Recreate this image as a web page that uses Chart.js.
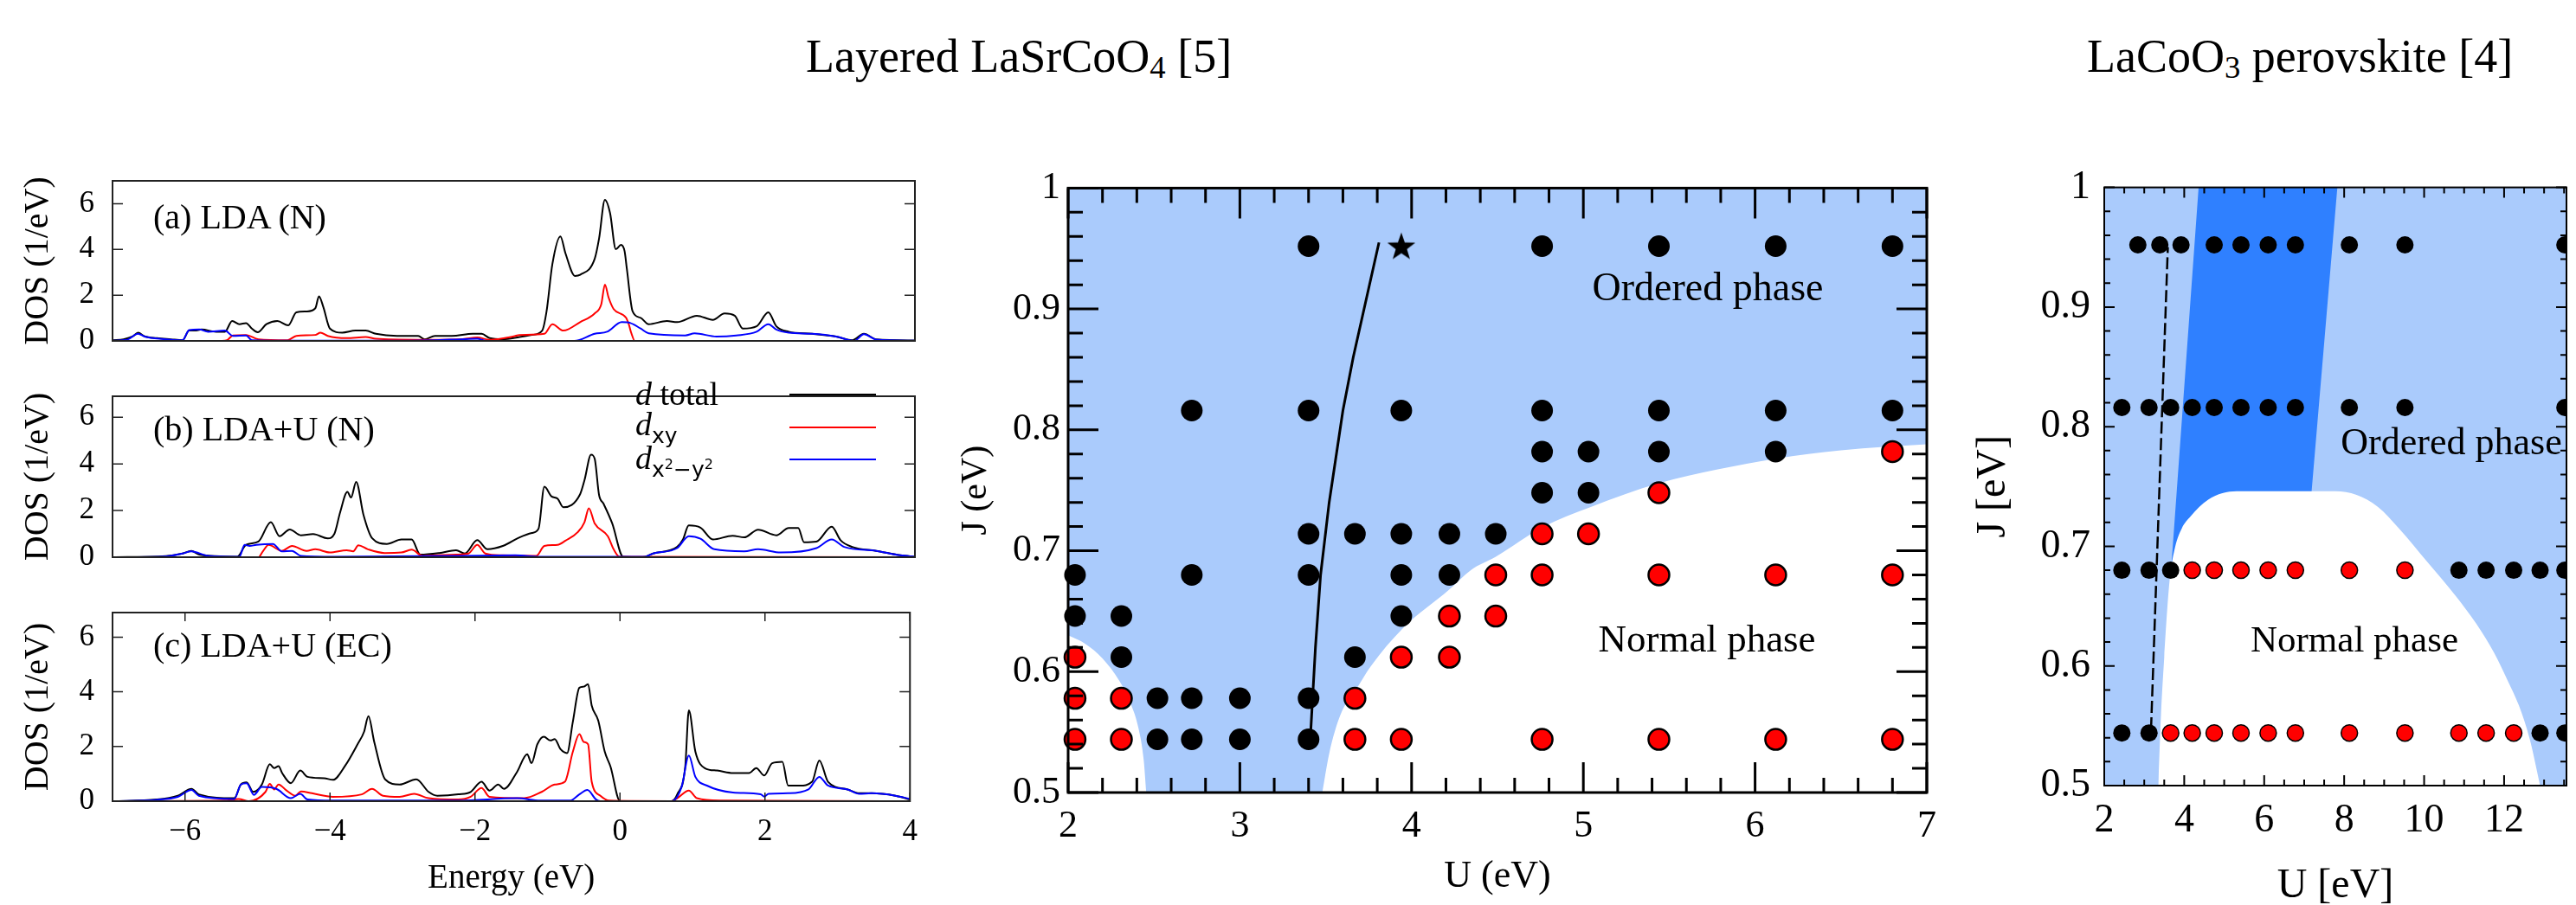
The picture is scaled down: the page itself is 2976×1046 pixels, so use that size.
<!DOCTYPE html>
<html><head><meta charset="utf-8">
<script src="https://cdn.jsdelivr.net/npm/chart.js@4.4.1/dist/chart.umd.min.js"></script>
<style>
html,body{margin:0;padding:0;background:#fff;}
body{width:2976px;height:1046px;overflow:hidden;position:relative;font-family:'Liberation Serif',serif;color:#000;}
canvas{position:absolute;}
.t{position:absolute;white-space:nowrap;color:#000;}
.c{transform:translate(-50%,-50%);}
.v{transform:translateY(-50%);}
sub.s{font-size:0.68em;vertical-align:-0.2em;line-height:0;}
.sans{font-family:'DejaVu Sans',sans-serif;}
.ln{position:absolute;height:0;width:100px;}
</style></head><body>

<div class="t" style="left:931px;top:38px;font-size:54px;line-height:54px;">Layered LaSrCoO<sub class="s">4</sub> [5]</div>
<div class="t" style="left:2411px;top:38px;font-size:54px;line-height:54px;">LaCoO<sub class="s">3</sub> perovskite [4]</div>

<script>
// ---------------- DATA ----------------
// DOS panels: [energy (eV), DOS (1/eV)]
const dosXTicks = [-6, -4, -2, 0, 2, 4];
const dosYTicks = [0, 2, 4, 6];
const panelLabels = ['(a) LDA (N)', '(b) LDA+U (N)', '(c) LDA+U (EC)'];

const aTotal = [[-7.0,0.03],[-6.85,0.07],[-6.72,0.2],[-6.65,0.36],[-6.56,0.2],[-6.39,0.12],[-6.2,0.07],[-6.04,0.03],[-5.95,0.45],[-5.87,0.45],[-5.78,0.5],[-5.58,0.4],[-5.46,0.4],[-5.36,0.87],[-5.26,0.73],[-5.17,0.78],[-5.09,0.54],[-5.01,0.38],[-4.89,0.73],[-4.74,0.87],[-4.59,0.68],[-4.48,1.25],[-4.34,1.29],[-4.22,1.43],[-4.17,1.95],[-4.11,1.48],[-4.02,0.54],[-3.85,0.36],[-3.67,0.45],[-3.53,0.45],[-3.39,0.31],[-3.1,0.22],[-2.81,0.22],[-2.72,0.07],[-2.58,0.22],[-2.35,0.22],[-2.06,0.31],[-1.94,0.31],[-1.83,0.12],[-1.65,0.07],[-1.42,0.17],[-1.25,0.26],[-1.11,0.45],[-1.05,1.29],[-0.97,3.36],[-0.86,4.57],[-0.79,3.82],[-0.66,2.84],[-0.59,2.89],[-0.39,3.59],[-0.33,4.48],[-0.25,6.17],[-0.18,5.6],[-0.1,4.01],[-0.03,4.2],[0.02,3.92],[0.05,3.17],[0.13,1.29],[0.24,1.01],[0.35,0.73],[0.6,0.87],[0.74,0.82],[1.01,1.1],[1.23,0.92],[1.39,1.2],[1.53,1.1],[1.64,0.54],[1.83,0.64],[1.99,1.25],[2.1,0.64],[2.27,0.4],[2.59,0.31],[2.92,0.19],[3.14,0.03],[3.3,0.31],[3.47,0.07],[4.0,0.02]];
const aXY = [[-7,0],[-5.5,0],[-5.43,0.03],[-5.35,0.24],[-5.17,0.26],[-5.0,0.07],[-4.6,0.03],[-4.48,0.22],[-4.22,0.26],[-4.15,0.36],[-4.05,0.22],[-3.79,0.12],[-3.53,0.17],[-3.39,0.09],[-2.81,0.05],[-2.2,0.08],[-2.0,0.15],[-1.83,0.05],[-1.5,0.2],[-1.42,0.26],[-1.08,0.31],[-0.97,0.73],[-0.82,0.45],[-0.59,0.82],[-0.39,1.2],[-0.3,1.6],[-0.25,2.46],[-0.2,1.9],[-0.13,1.39],[0.04,1.01],[0.08,0.7],[0.11,0.36],[0.16,0],[4.0,0]];
const aX2Y2 = [[-7,0.01],[-6.8,0.05],[-6.65,0.31],[-6.56,0.19],[-6.3,0.08],[-6.04,0.03],[-5.95,0.47],[-5.81,0.5],[-5.69,0.4],[-5.46,0.45],[-5.35,0.22],[-5.17,0.24],[-5.09,0.03],[-4.5,0.01],[-3.39,0.01],[-2.6,0.03],[-2.23,0.07],[-2.0,0.09],[-1.88,0],[-0.67,0],[-0.39,0.31],[-0.22,0.4],[-0.02,0.82],[0.1,0.78],[0.24,0.54],[0.35,0.33],[0.85,0.24],[0.98,0.33],[1.28,0.19],[1.55,0.24],[1.83,0.4],[1.99,0.73],[2.1,0.5],[2.27,0.36],[2.59,0.31],[2.92,0.19],[3.17,0],[3.3,0.29],[3.47,0.06],[4.0,0.01]];

const bTotal = [[-7,0],[-6.27,0.05],[-6.04,0.16],[-5.92,0.27],[-5.81,0.11],[-5.29,0.02],[-5.17,0.53],[-5.0,0.67],[-4.83,1.5],[-4.71,0.9],[-4.57,1.19],[-4.42,0.94],[-4.25,0.99],[-4.05,0.81],[-3.96,0.99],[-3.88,1.92],[-3.78,2.8],[-3.73,2.56],[-3.66,3.23],[-3.56,1.82],[-3.44,0.81],[-3.24,0.57],[-3.04,0.76],[-2.9,0.76],[-2.78,0.11],[-2.52,0.18],[-2.29,0.3],[-2.17,0.16],[-2.0,0.73],[-1.86,0.34],[-1.65,0.48],[-1.42,0.85],[-1.25,1.04],[-1.16,1.22],[-1.08,3.02],[-0.98,2.6],[-0.9,2.51],[-0.82,2.14],[-0.59,2.7],[-0.53,3.3],[-0.44,4.4],[-0.39,4.22],[-0.33,2.66],[-0.27,2.3],[-0.15,1.45],[0,0.02],[0.27,0],[0.41,0.16],[0.74,0.44],[0.82,0.76],[0.9,1.36],[1.06,1.27],[1.23,0.76],[1.5,0.92],[1.66,0.85],[1.85,1.18],[2.1,0.94],[2.27,1.25],[2.4,1.25],[2.48,0.64],[2.65,0.67],[2.86,1.31],[2.98,0.73],[3.14,0.44],[3.47,0.27],[3.8,0.08],[4.0,0.02]];
const bXY = [[-7,0],[-5.0,0],[-4.94,0.25],[-4.86,0.53],[-4.68,0.27],[-4.54,0.48],[-4.34,0.27],[-4.22,0.34],[-4.02,0.2],[-3.79,0.3],[-3.7,0.25],[-3.63,0.51],[-3.5,0.34],[-3.27,0.18],[-3.04,0.2],[-2.9,0.32],[-2.75,0.06],[-2.29,0.11],[-2.12,0.16],[-2.0,0.53],[-1.89,0.16],[-1.65,0.08],[-1.19,0.06],[-1.08,0.48],[-0.9,0.53],[-0.79,0.71],[-0.62,1.08],[-0.53,1.5],[-0.47,2.1],[-0.39,1.45],[-0.21,0.9],[-0.13,0.34],[-0.05,0.02],[4.0,0]];
const bX2Y2 = [[-7,0],[-6.3,0.03],[-6.04,0.16],[-5.92,0.25],[-5.69,0.06],[-5.26,0.02],[-5.19,0.53],[-5.12,0.48],[-5.03,0.53],[-4.8,0.57],[-4.68,0.25],[-4.54,0.27],[-4.42,0.06],[-3.96,0.02],[-2.23,0.06],[-1.48,0.08],[-1.13,0.02],[0.3,0.02],[0.41,0.16],[0.74,0.39],[0.9,0.9],[1.06,0.79],[1.25,0.34],[1.66,0.25],[1.85,0.34],[2.16,0.2],[2.65,0.39],[2.86,0.76],[3.03,0.44],[3.47,0.27],[3.8,0.08],[4.0,0.02]];

const cTotal = [[-7,0],[-6.39,0.06],[-6.1,0.2],[-5.91,0.45],[-5.81,0.25],[-5.32,0.11],[-5.23,0.61],[-5.15,0.69],[-5.06,0.34],[-4.94,0.61],[-4.83,1.35],[-4.77,1.21],[-4.71,1.28],[-4.66,1.03],[-4.54,0.66],[-4.41,1.12],[-4.31,0.89],[-4.08,0.84],[-3.96,0.78],[-3.79,1.3],[-3.62,2.08],[-3.53,2.54],[-3.47,3.11],[-3.39,2.17],[-3.24,0.8],[-3.04,0.61],[-2.81,0.8],[-2.64,0.34],[-2.52,0.2],[-2.23,0.25],[-2.06,0.34],[-1.91,0.71],[-1.8,0.39],[-1.68,0.61],[-1.6,0.45],[-1.42,1.07],[-1.28,1.72],[-1.22,1.39],[-1.14,2.08],[-1.05,2.36],[-0.96,2.22],[-0.9,2.27],[-0.82,1.9],[-0.73,1.76],[-0.65,2.91],[-0.56,4.15],[-0.5,4.19],[-0.44,4.28],[-0.39,3.5],[-0.3,2.95],[-0.21,1.81],[-0.13,1.26],[0,0],[0.71,0],[0.79,0.25],[0.9,1.26],[0.95,3.32],[1.04,1.81],[1.17,1.21],[1.34,1.12],[1.56,1.03],[1.78,1.03],[1.88,1.21],[1.99,0.94],[2.1,1.39],[2.24,1.44],[2.32,0.57],[2.48,0.57],[2.65,0.71],[2.75,1.49],[2.87,0.71],[3.14,0.43],[3.3,0.29],[3.47,0.29],[3.8,0.2],[4.0,0.06]];
const cXY = [[-7,0],[-5.46,0.02],[-5.26,0.08],[-5.12,0],[-4.89,0.34],[-4.83,0.63],[-4.77,0.43],[-4.71,0.61],[-4.6,0.39],[-4.48,0.2],[-4.4,0.36],[-4.25,0.29],[-3.96,0.16],[-3.56,0.25],[-3.42,0.45],[-3.27,0.2],[-3.04,0.16],[-2.84,0.27],[-2.64,0.11],[-2.23,0.06],[-2.06,0.16],[-1.91,0.48],[-1.8,0.16],[-1.32,0.11],[-1.08,0.34],[-0.9,0.61],[-0.76,0.71],[-0.65,1.81],[-0.56,2.45],[-0.5,2.17],[-0.44,2.08],[-0.39,0.71],[-0.27,0.2],[-0.15,0.02],[0.71,0],[0.79,0.11],[0.95,0.39],[1.06,0.11],[1.39,0.02],[4.0,0]];
const cX2Y2 = [[-7,0],[-6.39,0.05],[-6.1,0.16],[-5.91,0.41],[-5.81,0.2],[-5.32,0.08],[-5.23,0.61],[-5.15,0.66],[-5.05,0.23],[-4.94,0.52],[-4.74,0.45],[-4.54,0.11],[-4.41,0.27],[-4.31,0.06],[-3.96,0.02],[-2.23,0.02],[-1.42,0.11],[-1.1,0.02],[-0.69,0.02],[-0.56,0.25],[-0.45,0.41],[-0.33,0.06],[-0.27,0],[0.71,0],[0.85,0.52],[0.95,1.67],[1.04,0.89],[1.2,0.57],[1.56,0.32],[1.94,0.25],[1.99,0.17],[2.05,0.27],[2.32,0.29],[2.6,0.43],[2.75,0.89],[2.87,0.57],[3.14,0.43],[3.3,0.27],[3.47,0.29],[3.8,0.2],[4.0,0.08]];

// Middle phase diagram (LaSrCoO4): U (eV), J (eV)
const midXTicks = [2, 3, 4, 5, 6, 7];
const midYTicks = [0.5, 0.6, 0.7, 0.8, 0.9, 1];
const midRowsJ = [0.952, 0.816, 0.782, 0.748, 0.714, 0.680, 0.646, 0.612, 0.578, 0.544];
const midBlackU = [
  [3.40, 4.76, 5.44, 6.12, 6.80],
  [2.72, 3.40, 3.94, 4.76, 5.44, 6.12, 6.80],
  [4.76, 5.03, 5.44, 6.12],
  [4.76, 5.03],
  [3.40, 3.67, 3.94, 4.22, 4.49],
  [2.04, 2.72, 3.40, 3.94, 4.22],
  [2.04, 2.31, 3.94],
  [2.31, 3.67],
  [2.52, 2.72, 3.00, 3.40],
  [2.52, 2.72, 3.00, 3.40]
];
const midRedU = [
  [],
  [],
  [6.80],
  [5.44],
  [4.76, 5.03],
  [4.49, 4.76, 5.44, 6.12, 6.80],
  [4.22, 4.49],
  [2.04, 3.94, 4.22],
  [2.04, 2.31, 3.67],
  [2.04, 2.31, 3.67, 3.94, 4.76, 5.44, 6.12, 6.80]
];
const midStar = [[3.94, 0.952]];
const midLine = [[3.41,0.544],[3.44,0.62],[3.47,0.68],[3.52,0.74],[3.6,0.816],[3.66,0.86],[3.81,0.955]];
const midNormalLeft = [[2.0,0.63],[2.1,0.623],[2.2,0.611],[2.3,0.592],[2.36,0.575],[2.41,0.553],[2.44,0.527],[2.455,0.5]];
const midNormalRight = [[3.48,0.5],[3.52,0.532],[3.585,0.564],[3.68,0.586],[3.76,0.604],[3.95,0.636],[4.22,0.668],[4.345,0.684],[4.49,0.695],[4.77,0.72],[5.04,0.736],[5.445,0.756],[6.12,0.776],[6.5,0.783],[7.0,0.788]];

// Right phase diagram (LaCoO3): U [eV], J [eV]
const rightXTicks = [2, 4, 6, 8, 10, 12];
const rightYTicks = [0.5, 0.6, 0.7, 0.8, 0.9, 1];
const rightRowsJ = [0.952, 0.816, 0.680, 0.544];
const rightBlackU = [
  [2.84, 3.39, 3.92, 4.75, 5.42, 6.10, 6.78, 8.13, 9.52, 13.52],
  [2.44, 3.12, 3.66, 4.20, 4.75, 5.42, 6.10, 6.78, 8.13, 9.52, 13.52],
  [2.44, 3.12, 3.66, 10.87, 11.55, 12.24, 12.90, 13.52],
  [2.44, 3.12, 12.90, 13.52]
];
const rightRedU = [
  [],
  [],
  [4.20, 4.75, 5.42, 6.10, 6.78, 8.13, 9.52],
  [3.66, 4.20, 4.75, 5.42, 6.10, 6.78, 8.13, 9.52, 10.87, 11.55, 12.24]
];
const rightDashed = [[3.17,0.547],[3.59,0.95]];
const rightDarkBand = [[4.36,1.0],[7.83,1.0],[7.12,0.72],[4.6,0.70],[3.53,0.615],[4.36,1.0]];
const rightNormal = [[3.35,0.5],[3.42,0.56],[3.5,0.607],[3.63,0.67],[3.77,0.699],[3.94,0.715],[4.16,0.725],[4.6,0.739],[5.31,0.746],[7.78,0.746],[8.31,0.743],[8.84,0.733],[9.37,0.715],[10.08,0.687],[10.78,0.659],[11.31,0.635],[11.75,0.611],[12.1,0.587],[12.37,0.567],[12.64,0.539],[12.9,0.5]];

// ---------------- STYLE / HELPERS ----------------
const SERIF = "'Liberation Serif', serif";
const LIGHT = '#aacbfc', DARK = '#2f80ff';
Chart.defaults.font.family = SERIF;
Chart.defaults.color = '#000';

const pts = arr => arr.map(([x, y]) => ({x, y}));
const rowsToPts = (rows, rowsJ) => rows.flatMap((us, i) => us.map(u => ({x: u, y: rowsJ[i]})));

const frameTicks = {
  id: 'frameTicks',
  afterDatasetsDraw(chart, args, o) {
    const {ctx, chartArea: a} = chart;
    const xs = chart.scales.x, ys = chart.scales.y;
    const minorVals = (s, step) => {
      const out = []; if (!step) return out;
      const k0 = Math.ceil(s.min / step - 1e-6), k1 = Math.floor(s.max / step + 1e-6);
      for (let k = k0; k <= k1; k++) out.push(k * step);
      return out;
    };
    ctx.save();
    ctx.strokeStyle = o.color;
    ctx.lineWidth = o.tickWidth;
    ctx.beginPath();
    const xt = (vals, len, sides) => vals.forEach(v => {
      const p = xs.getPixelForValue(v);
      if (sides.includes('b')) { ctx.moveTo(p, a.bottom); ctx.lineTo(p, a.bottom - len); }
      if (sides.includes('t')) { ctx.moveTo(p, a.top); ctx.lineTo(p, a.top + len); }
    });
    const yt = (vals, len, sides) => vals.forEach(v => {
      const p = ys.getPixelForValue(v);
      if (sides.includes('l')) { ctx.moveTo(a.left, p); ctx.lineTo(a.left + len, p); }
      if (sides.includes('r')) { ctx.moveTo(a.right, p); ctx.lineTo(a.right - len, p); }
    });
    if (o.x) { xt(o.x.majors, o.x.major, o.x.sides); xt(minorVals(xs, o.x.minorStep), o.x.minor, o.x.sides); }
    if (o.y) { yt(o.y.majors, o.y.major, o.y.sides); yt(minorVals(ys, o.y.minorStep), o.y.minor, o.y.sides); }
    ctx.stroke();
    ctx.lineWidth = o.frameWidth;
    ctx.strokeRect(a.left, a.top, a.right - a.left, a.bottom - a.top);
    ctx.restore();
  }
};

function mk(box, cfg) {
  const c = document.createElement('canvas');
  c.width = box.w; c.height = box.h;
  c.style.left = box.l + 'px'; c.style.top = box.t + 'px';
  c.style.width = box.w + 'px'; c.style.height = box.h + 'px';
  document.body.appendChild(c);
  cfg.options.responsive = false;
  cfg.options.animation = false;
  cfg.options.devicePixelRatio = 1;
  cfg.options.events = [];
  cfg.plugins = [frameTicks];
  return new Chart(c.getContext('2d'), cfg);
}

function axis(o) {
  const shown = o.display !== false;
  return {
    type: 'linear', min: o.min, max: o.max, display: shown,
    grid: {display: false, drawTicks: false}, border: {display: false},
    afterBuildTicks: s => { s.ticks = o.ticks.map(v => ({value: v})); },
    afterFit: s => { const sz = shown ? o.size : 0; if (o.isY) s.width = sz; else s.height = sz; },
    ticks: {
      font: {family: SERIF, size: o.fs, lineHeight: 1.2}, color: '#000',
      padding: o.pad, maxRotation: 0, autoSkip: false, callback: o.fmt
    },
    title: o.title ? {display: true, text: o.title, font: {family: SERIF, size: o.tfs, lineHeight: 1}, padding: 0, color: '#000'} : {display: false}
  };
}

const minusFmt = v => (v < 0 ? '\u2212' + Math.abs(v) : String(v));
const jFmt = v => (v === 1 ? '1' : v.toFixed(1));

// ---------------- DOS CHARTS ----------------
function lineDS(arr, color, order) {
  return {data: pts(arr), borderColor: color, borderWidth: 2, pointRadius: 0, fill: false,
          cubicInterpolationMode: 'monotone', order};
}
function dosChart(box, pad, ymax, sets, showX) {
  return mk(box, {
    type: 'line',
    data: {datasets: [lineDS(sets[0], '#000', 3), lineDS(sets[1], '#ff0000', 2), lineDS(sets[2], '#0000ff', 1)]},
    options: {
      layout: {padding: pad},
      plugins: {legend: {display: false}, tooltip: {enabled: false},
        frameTicks: {color: '#222', tickWidth: 1.5, frameWidth: 2,
          x: showX ? {majors: dosXTicks, major: 10, minor: 0, minorStep: 0, sides: 'bt'} : null,
          y: {majors: dosYTicks, major: 12, minor: 0, minorStep: 0, sides: 'lr'}}},
      scales: {
        x: axis({min: -7, max: 4, ticks: dosXTicks, display: showX, size: 109, fs: 35, pad: 15, fmt: minusFmt, title: showX ? 'Energy (eV)' : null, tfs: 39}),
        y: axis({min: 0, max: ymax, ticks: dosYTicks, isY: true, size: 106, fs: 35, pad: 21, fmt: v => String(v), title: 'DOS (1/eV)', tfs: 40})
      }
    }
  });
}
dosChart({l: 0, t: 167, w: 1075, h: 269}, {left: 24, top: 10, right: 18, bottom: 10}, 7.0, [aTotal, aXY, aX2Y2], false);
dosChart({l: 0, t: 416, w: 1075, h: 270}, {left: 24, top: 10, right: 18, bottom: 10}, 6.9, [bTotal, bXY, bX2Y2], false);
dosChart({l: 0, t: 666, w: 1075, h: 380}, {left: 24, top: 10, right: 18, bottom: 11}, 6.9, [cTotal, cXY, cX2Y2], true);

// ---------------- STAR ----------------
function starImg(size) {
  const c = document.createElement('canvas'); c.width = c.height = size;
  const g = c.getContext('2d'); g.fillStyle = '#000'; g.beginPath();
  for (let i = 0; i < 10; i++) {
    const r = i % 2 ? size * 0.2 : size * 0.5;
    const ang = -Math.PI / 2 + i * Math.PI / 5;
    g.lineTo(size / 2 + r * Math.cos(ang), size * 0.54 + r * Math.sin(ang));
  }
  g.closePath(); g.fill(); return c;
}

// ---------------- MIDDLE PHASE DIAGRAM ----------------
mk({l: 1090, t: 182, w: 1160, h: 864}, {
  type: 'line',
  data: {datasets: [
    {data: pts([[2, 1], [7, 1]]), borderWidth: 0, pointRadius: 0, fill: 'start', backgroundColor: LIGHT, order: 10},
    {data: pts(midNormalLeft), borderWidth: 0, pointRadius: 0, fill: 'start', backgroundColor: '#fff', cubicInterpolationMode: 'monotone', order: 9},
    {data: pts(midNormalRight), borderWidth: 0, pointRadius: 0, fill: 'start', backgroundColor: '#fff', cubicInterpolationMode: 'monotone', order: 8},
    {data: pts(midLine), borderColor: '#000', borderWidth: 3, pointRadius: 0, fill: false, order: 5},
    {data: rowsToPts(midBlackU, midRowsJ), showLine: false, pointRadius: 12.5, backgroundColor: '#000', borderColor: '#000', borderWidth: 0, clip: false, order: 3},
    {data: rowsToPts(midRedU, midRowsJ), showLine: false, pointRadius: 12, backgroundColor: '#ff0000', borderColor: '#000', borderWidth: 2.5, clip: false, order: 2},
    {data: pts(midStar), showLine: false, pointStyle: starImg(34), pointRadius: 17, clip: false, order: 1}
  ]},
  options: {
    layout: {padding: {left: 17, top: 10, right: 20, bottom: 11}},
    plugins: {legend: {display: false}, tooltip: {enabled: false},
      frameTicks: {color: '#000', tickWidth: 3, frameWidth: 3,
        x: {majors: midXTicks, major: 35, minor: 17, minorStep: 0.2, sides: 'bt'},
        y: {majors: midYTicks, major: 35, minor: 17, minorStep: 0.02, sides: 'lr'}}},
    scales: {
      x: axis({min: 2, max: 7, ticks: midXTicks, size: 119, fs: 44, pad: 13, fmt: v => String(v), title: 'U (eV)', tfs: 44}),
      y: axis({min: 0.5, max: 1, ticks: midYTicks, isY: true, size: 127, fs: 44, pad: 9, fmt: jFmt, title: 'J (eV)', tfs: 42})
    }
  }
});

// ---------------- RIGHT PHASE DIAGRAM ----------------
mk({l: 2260, t: 173, w: 716, h: 887}, {
  type: 'line',
  data: {datasets: [
    {data: pts([[2, 1], [13.56, 1]]), borderWidth: 0, pointRadius: 0, fill: 'start', backgroundColor: LIGHT, order: 10},
    {data: pts(rightDarkBand), borderWidth: 0, pointRadius: 0, fill: 'shape', backgroundColor: DARK, order: 9},
    {data: pts(rightNormal), borderWidth: 0, pointRadius: 0, fill: 'start', backgroundColor: '#fff', cubicInterpolationMode: 'monotone', order: 8},
    {data: pts(rightDashed), borderColor: '#000', borderWidth: 2.5, borderDash: [14, 5], pointRadius: 0, fill: false, order: 5},
    {data: rowsToPts(rightBlackU, rightRowsJ), showLine: false, pointRadius: 10, backgroundColor: '#000', borderColor: '#000', borderWidth: 0, clip: 0, order: 3},
    {data: rowsToPts(rightRedU, rightRowsJ), showLine: false, pointRadius: 9.5, backgroundColor: '#ff0000', borderColor: '#000', borderWidth: 1.5, clip: 0, order: 2}
  ]},
  options: {
    layout: {padding: {left: 19, top: 10, right: 5, bottom: 12}},
    plugins: {legend: {display: false}, tooltip: {enabled: false},
      frameTicks: {color: '#000', tickWidth: 2, frameWidth: 2,
        x: {majors: rightXTicks, major: 12, minor: 7, minorStep: 0.5, sides: 'bt'},
        y: {majors: rightYTicks, major: 12, minor: 7, minorStep: 0.02, sides: 'lr'}}},
    scales: {
      x: axis({min: 2, max: 13.56, ticks: rightXTicks, size: 140, fs: 46, pad: 13, fmt: v => String(v), title: 'U [eV]', tfs: 48}),
      y: axis({min: 0.5, max: 1, ticks: rightYTicks, isY: true, size: 152, fs: 46, pad: 16, fmt: jFmt, title: 'J [eV]', tfs: 48})
    }
  }
});
</script>

<!-- panel labels and legend -->
<div class="t v" style="left:177px;top:250px;font-size:40px;">(a) LDA (N)</div>
<div class="t v" style="left:177px;top:495px;font-size:40px;">(b) LDA+U (N)</div>
<div class="t v" style="left:177px;top:745px;font-size:40px;">(c) LDA+U (EC)</div>

<div class="t v" style="left:734px;top:455px;font-size:38px;"><i>d</i> total</div>
<div class="t v" style="left:734px;top:493px;font-size:38px;"><i>d</i><span class="sans" style="font-size:25px;vertical-align:-0.35em;">xy</span></div>
<div class="t v" style="left:734px;top:532px;font-size:38px;"><i>d</i><span class="sans" style="font-size:25px;vertical-align:-0.35em;">x<sup style="font-size:16px;">2</sup>−y<sup style="font-size:16px;">2</sup></span></div>
<div class="ln" style="left:912px;top:455px;border-top:2.5px solid #000;"></div>
<div class="ln" style="left:912px;top:493px;border-top:2.5px solid #ff0000;"></div>
<div class="ln" style="left:912px;top:530px;border-top:2.5px solid #0000ff;"></div>

<div class="t c" style="left:1973px;top:331px;font-size:46px;">Ordered phase</div>
<div class="t c" style="left:1972px;top:738px;font-size:45px;">Normal phase</div>
<div class="t c" style="left:2832px;top:510px;font-size:44px;">Ordered phase</div>
<div class="t c" style="left:2720px;top:738px;font-size:43px;">Normal phase</div>
</body></html>
